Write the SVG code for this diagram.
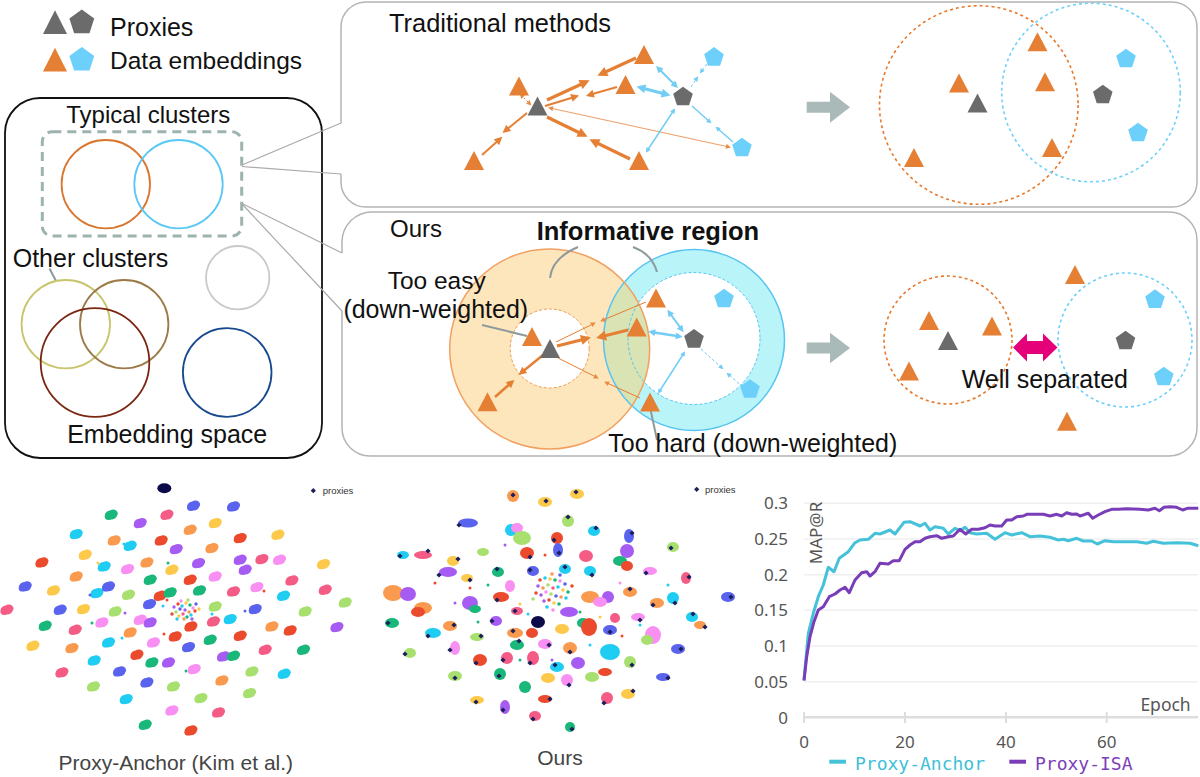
<svg xmlns="http://www.w3.org/2000/svg" xmlns:xlink="http://www.w3.org/1999/xlink" width="1200" height="777" viewBox="0 0 1200 777">
<style>
text{font-family:"Liberation Sans",Arial,sans-serif;fill:#111}
.ch{font-family:"Noto Sans","Open Sans",sans-serif;fill:#555;font-size:17px}
.mono{font-family:"DejaVu Sans Mono","Liberation Mono",monospace;font-size:18px}
.or{fill:#e57f33}.gy{fill:#6b6b6b}.bl{fill:#6dd0fa}
.panel{fill:none;stroke:#b4b4b4;stroke-width:1.5}
.call{stroke:#aaaaaa;stroke-width:1.2;fill:none}
.ptr{stroke:#8f9a9d;stroke-width:2;fill:none}
.ao{stroke:#e57f33;fill:none}
.ab{stroke:#72cdf4;fill:none}
.r{fill:#ec4a2d}.o{fill:#f99a4e}.y{fill:#fcc94a}.lg{fill:#a8e070}.g{fill:#19b77a}.c{fill:#1fcdf2}.b{fill:#5a63ee}.pu{fill:#a65cf3}.pk{fill:#f88ff2}.ro{fill:#f45c86}.nv{fill:#0b0b4a}
.grid{stroke:#efefef;stroke-width:1.5}
</style>
<defs>
<polygon id="tri" points="0,-9.5 10,9.5 -10,9.5"/>
<polygon id="pent" points="0,-10.3 9.8,-3.2 6.05,8.35 -6.05,8.35 -9.8,-3.2"/>
<g id="e1"><ellipse rx="6" ry="4.6"/><ellipse cx="2.2" cy="-1.6" rx="4.6" ry="3.8"/><ellipse cx="-2.5" cy="1.5" rx="3.8" ry="3.4"/></g>
<polygon id="px" points="0,-2.6 2.6,0 0,2.6 -2.6,0" fill="#1d1f5c"/>
<marker id="aoL" viewBox="0 0 10 10" refX="6" refY="5" markerWidth="11" markerHeight="10" orient="auto-start-reverse" markerUnits="userSpaceOnUse"><path d="M0,0 L10,5 L0,10 z" fill="#e57f33"/></marker>
<marker id="aoM" viewBox="0 0 10 10" refX="6" refY="5" markerWidth="9" markerHeight="8" orient="auto-start-reverse" markerUnits="userSpaceOnUse"><path d="M0,0 L10,5 L0,10 z" fill="#e57f33"/></marker>
<marker id="aoS" viewBox="0 0 10 10" refX="6" refY="5" markerWidth="6" markerHeight="5" orient="auto-start-reverse" markerUnits="userSpaceOnUse"><path d="M0,0 L10,5 L0,10 z" fill="#e98a45"/></marker>
<marker id="abL" viewBox="0 0 10 10" refX="6" refY="5" markerWidth="10" markerHeight="9" orient="auto-start-reverse" markerUnits="userSpaceOnUse"><path d="M0,0 L10,5 L0,10 z" fill="#72cdf4"/></marker>
<marker id="abM" viewBox="0 0 10 10" refX="6" refY="5" markerWidth="8" markerHeight="7" orient="auto-start-reverse" markerUnits="userSpaceOnUse"><path d="M0,0 L10,5 L0,10 z" fill="#72cdf4"/></marker>
<marker id="abS" viewBox="0 0 10 10" refX="6" refY="5" markerWidth="6" markerHeight="5" orient="auto-start-reverse" markerUnits="userSpaceOnUse"><path d="M0,0 L10,5 L0,10 z" fill="#72cdf4"/></marker>
<clipPath id="peachClip"><circle cx="549.7" cy="349" r="100"/></clipPath>
</defs>
<rect width="1200" height="777" fill="#fff"/>

<!-- Legend -->
<g id="legend">
<use href="#tri" class="gy" transform="translate(55,22) scale(1.2,1.25)"/>
<use href="#pent" class="gy" transform="translate(81.8,22.6) scale(1.27)"/>
<use href="#tri" class="or" transform="translate(55,59.5) scale(1.2,1.25)"/>
<use href="#pent" class="bl" transform="translate(81.8,60) scale(1.27)"/>
<text x="110" y="35.7" font-size="25">Proxies</text>
<text x="110" y="68.5" font-size="24.5">Data embeddings</text>
</g>

<!-- Embedding space box -->
<g id="embedding-space">
<rect x="5" y="98" width="317" height="360" rx="35" fill="none" stroke="#111" stroke-width="1.8"/>
<text x="148.3" y="123.3" font-size="24" text-anchor="middle">Typical clusters</text>
<rect x="42.3" y="131.7" width="199.4" height="104.3" rx="10" fill="none" stroke="#9db3b0" stroke-width="3" stroke-dasharray="9 6"/>
<circle cx="105.8" cy="184.2" r="44.2" fill="none" stroke="#d9762e" stroke-width="1.8"/>
<circle cx="178.5" cy="184.2" r="44.2" fill="none" stroke="#5ac8f5" stroke-width="1.8"/>
<text x="12.7" y="266.7" font-size="25">Other clusters</text>
<line x1="49.5" y1="268.5" x2="56" y2="281" class="ptr"/>
<circle cx="65.8" cy="324.2" r="44.2" fill="none" stroke="#c8c56c" stroke-width="1.8"/>
<circle cx="124.2" cy="324.2" r="44.2" fill="none" stroke="#9c7a48" stroke-width="1.8"/>
<circle cx="95" cy="362.5" r="54.3" fill="none" stroke="#7b2612" stroke-width="1.8"/>
<circle cx="237.7" cy="277.7" r="31.7" fill="none" stroke="#c9c9c9" stroke-width="1.8"/>
<circle cx="227.2" cy="372.5" r="44.3" fill="none" stroke="#17498f" stroke-width="1.8"/>
<text x="167.2" y="443.3" font-size="25" text-anchor="middle">Embedding space</text>
</g>

<!-- Traditional methods panel -->
<g id="panel-traditional">
<path class="panel" d="M341,174 V182 A25,25 0 0 0 366,207 H1172 A25,25 0 0 0 1197,182 V27 A25,25 0 0 0 1172,2 H366 A25,25 0 0 0 341,27 V123"/>
<text x="389" y="31.7" font-size="25.4">Traditional methods</text>
<circle cx="978.8" cy="105" r="99.3" fill="none" stroke="#e8782a" stroke-width="1.6" stroke-dasharray="3 3"/>
<circle cx="1091" cy="92.5" r="89.3" fill="none" stroke="#6dd0fa" stroke-width="1.6" stroke-dasharray="3 3"/>
<polygon points="806.7,101.7 830,101.7 830,91.7 850,107.2 830,122.7 830,112.7 806.7,112.7" fill="#a9bab8"/>
</g>

<!-- Ours panel -->
<g id="panel-ours">
<path class="panel" d="M342,311 V428 A28,28 0 0 0 370,456 H1169 A28,28 0 0 0 1197,428 V240 A28,28 0 0 0 1169,212 H372 A30,30 0 0 0 342,242 V253"/>
<circle cx="694" cy="340" r="90.5" fill="#b9f4f9"/>
<circle cx="694" cy="338.5" r="66" fill="#fff"/>
<circle cx="549.7" cy="349" r="100" fill="#fde5bc"/>
<circle cx="694" cy="340" r="90.5" fill="#d9e3b3" clip-path="url(#peachClip)"/>
<circle cx="549.7" cy="348.5" r="39.5" fill="#fff" stroke="#f09a55" stroke-width="1" stroke-dasharray="3 2"/>
<circle cx="694" cy="338.5" r="66" fill="none" stroke="#56c4f2" stroke-width="1" stroke-dasharray="3 2"/>
<circle cx="694" cy="340" r="90.5" fill="none" stroke="#56c4f2" stroke-width="1.5"/>
<circle cx="549.7" cy="349" r="100" fill="none" stroke="#f0a060" stroke-width="1.5"/>
<text x="390" y="236.7" font-size="24">Ours</text>
<text x="536.7" y="240" font-size="25.5" font-weight="bold">Informative region</text>
<path class="ptr" d="M578,247 Q552,258 550,278"/>
<path class="ptr" d="M633,247 Q652,254 657,272"/>
<text x="436.7" y="289.3" font-size="24.5" text-anchor="middle">Too easy</text>
<text x="435.8" y="318.3" font-size="25" text-anchor="middle">(down-weighted)</text>
<line class="ptr" x1="482" y1="325" x2="527" y2="336"/>
<line class="ptr" x1="650" y1="407" x2="657" y2="440"/>
<text x="608.3" y="451.7" font-size="25">Too hard (down-weighted)</text>
<polygon points="806.7,342.5 830,342.5 830,332.7 850,348 830,363.3 830,353.5 806.7,353.5" fill="#a9bab8"/>
<circle cx="948" cy="340" r="64" fill="none" stroke="#e8782a" stroke-width="1.6" stroke-dasharray="3 3"/>
<circle cx="1125" cy="340" r="67" fill="none" stroke="#6dd0fa" stroke-width="1.6" stroke-dasharray="3 3"/>
<polygon points="1013,347.5 1027,333.5 1027,341 1043,341 1043,333.5 1057.5,347.5 1043,361.5 1043,354 1027,354 1027,361.5" fill="#e5007a"/>
<text x="961.7" y="388.3" font-size="25">Well separated</text>
</g>

<!-- Connectors -->
<g id="connectors">
<line class="call" x1="242" y1="165" x2="341" y2="123"/>
<line class="call" x1="242" y1="166.5" x2="341" y2="174"/>
<line class="call" x1="242" y1="203.5" x2="342" y2="253"/>
<line class="call" x1="243" y1="205" x2="342" y2="311"/>
<!-- traditional orange -->
<path class="ao" stroke-width="3.2" d="M636,58 L601,74" marker-end="url(#aoL)"/>
<path class="ao" stroke-width="3.2" d="M547,100 L586,82" marker-end="url(#aoL)"/>
<path class="ao" stroke-width="3.2" d="M630,159 L593,141" marker-end="url(#aoL)"/>
<path class="ao" stroke-width="3.2" d="M547,117 L584,135" marker-end="url(#aoL)"/>
<path class="ao" stroke-width="2" d="M617,87 L589,95" marker-end="url(#aoM)"/>
<path class="ao" stroke-width="2" d="M545,106 L576,96.5" marker-end="url(#aoM)"/>
<path class="ao" stroke-width="2" d="M527,113 L505,131" marker-end="url(#aoM)"/>
<path class="ao" stroke-width="2" d="M482,155 L500,139" marker-end="url(#aoM)"/>
<path class="ao" stroke-width="1" stroke-dasharray="2 2" d="M521,95 L530,104" marker-start="url(#aoS)" marker-end="url(#aoS)"/>
<path stroke="#eea06a" fill="none" stroke-width="1.1" d="M550,108 L729,147" marker-start="url(#aoS)" marker-end="url(#aoS)"/>
<!-- traditional blue -->
<path class="ab" stroke-width="2" d="M658,68 L676,86" marker-start="url(#abM)" marker-end="url(#abM)"/>
<path class="ab" stroke-width="3" d="M640,87.5 L667,94.5" marker-start="url(#abL)" marker-end="url(#abL)"/>
<path class="ab" stroke-width="1.5" d="M647,151 L674,110" marker-start="url(#abS)" marker-end="url(#abS)"/>
<path class="ab" stroke-width="1" stroke-dasharray="3 2" d="M691,87 L697,78" marker-end="url(#abS)"/>
<path class="ab" stroke-width="1" stroke-dasharray="3 2" d="M707,64 L701,72" marker-end="url(#abS)"/>
<path class="ab" stroke-width="1.5" d="M692,106 L710,122" marker-end="url(#abS)"/>
<path class="ab" stroke-width="1.5" d="M733,142 L717,128" marker-end="url(#abS)"/>
<!-- ours orange -->
<path class="ao" stroke-width="3" d="M557,346 L587,338.5" marker-end="url(#aoL)"/>
<path class="ao" stroke-width="3" d="M628,330 L600,337" marker-end="url(#aoL)"/>
<path class="ao" stroke-width="2.5" d="M543,355 L521,373" marker-end="url(#aoM)"/>
<path class="ao" stroke-width="2.5" d="M495,397 L512,382" marker-end="url(#aoM)"/>
<path class="ao" stroke-width="1" d="M646,302 L602,320.5" marker-end="url(#aoS)"/>
<path class="ao" stroke-width="1" d="M556,342 L594,323.5" marker-end="url(#aoS)"/>
<path class="ao" stroke-width="1" d="M558,358 L597,377.5" marker-end="url(#aoS)"/>
<path class="ao" stroke-width="1" d="M640,398 L606,382.5" marker-end="url(#aoS)"/>
<!-- ours blue -->
<path class="ab" stroke-width="2" d="M669,312 L682,330" marker-start="url(#abM)" marker-end="url(#abM)"/>
<path class="ab" stroke-width="2.5" d="M651,332 L680,336.5" marker-start="url(#abM)" marker-end="url(#abM)"/>
<path class="ab" stroke-width="1.5" d="M659,392 L684,353" marker-start="url(#abS)" marker-end="url(#abS)"/>
<path class="ab" stroke-width="1" stroke-dasharray="3 2" d="M701,349 L722,368" marker-end="url(#abS)"/>
<path class="ab" stroke-width="1" stroke-dasharray="3 2" d="M743,387 L728,374" marker-end="url(#abS)"/>
</g>

<!-- Nodes: traditional -->
<g id="nodes-traditional">
<use href="#tri" class="or" x="519" y="86"/>
<use href="#tri" class="or" x="644" y="54.5"/>
<use href="#tri" class="or" x="625.5" y="84.5"/>
<use href="#tri" class="or" x="474" y="160.5"/>
<use href="#tri" class="or" x="639" y="160.5"/>
<use href="#tri" class="gy" x="537.5" y="106"/>
<use href="#pent" class="gy" x="683" y="97"/>
<use href="#pent" class="bl" x="714" y="57.4"/>
<use href="#pent" class="bl" x="742" y="148"/>
<use href="#tri" class="or" x="1037.5" y="41.7"/>
<use href="#tri" class="or" x="959" y="83"/>
<use href="#tri" class="or" x="1045" y="81.7"/>
<use href="#tri" class="or" x="1052" y="147.5"/>
<use href="#tri" class="or" x="914" y="157.5"/>
<use href="#tri" class="gy" x="977.5" y="103"/>
<use href="#pent" class="gy" x="1102.8" y="95"/>
<use href="#pent" class="bl" x="1126" y="59"/>
<use href="#pent" class="bl" x="1138" y="133"/>
</g>

<!-- Nodes: ours -->
<g id="nodes-ours">
<use href="#tri" class="or" x="532" y="336.5"/>
<use href="#tri" class="gy" x="550" y="348.5"/>
<use href="#tri" class="or" x="487.5" y="401.7"/>
<use href="#tri" class="or" x="656" y="298"/>
<use href="#tri" class="or" x="636.7" y="327"/>
<use href="#tri" class="or" x="650" y="402"/>
<use href="#pent" class="gy" x="694" y="339.3"/>
<use href="#pent" class="bl" x="724" y="299"/>
<use href="#pent" class="bl" x="750" y="389.5"/>
<use href="#tri" class="or" x="929" y="320.5"/>
<use href="#tri" class="or" x="992" y="326"/>
<use href="#tri" class="or" x="909" y="371"/>
<use href="#tri" class="or" x="1075" y="274.5"/>
<use href="#tri" class="or" x="1067" y="421.3"/>
<use href="#tri" class="gy" x="948" y="340.5"/>
<use href="#pent" class="gy" x="1125.5" y="341"/>
<use href="#pent" class="bl" x="1155" y="299.6"/>
<use href="#pent" class="bl" x="1163.8" y="377"/>
</g>

<!-- Scatter: Proxy-Anchor -->
<g id="scatter-proxy-anchor">
<ellipse cx="164.3" cy="488.3" rx="7" ry="5" class="nv"/>
<use href="#px" x="313.3" y="490.7"/>
<text x="322.7" y="494" font-size="9.5" style="fill:#333">proxies</text>
<use href="#e1" class="b" x="193.3" y="506"/><use href="#e1" class="b" x="233.3" y="506.7"/>
<use href="#e1" class="g" x="111" y="515"/><use href="#e1" class="ro" x="166.7" y="515"/>
<use href="#e1" class="pu" x="140" y="523.3"/><use href="#e1" class="y" x="215" y="523.3"/>
<use href="#e1" class="c" x="76" y="534.3"/><use href="#e1" class="o" x="190" y="530"/>
<use href="#e1" class="r" x="240" y="538.3"/><use href="#e1" class="y" x="277.7" y="535"/>
<use href="#e1" class="o" x="114" y="540.7"/><use href="#e1" class="r" x="161" y="540.7"/>
<use href="#e1" class="c" x="130" y="546"/><use href="#e1" class="pu" x="176" y="549.3"/>
<use href="#e1" class="o" x="211.7" y="548.3"/><use href="#e1" class="y" x="85" y="555"/>
<use href="#e1" class="r" x="41.7" y="562.7"/><use href="#e1" class="o" x="146.7" y="562.7"/>
<use href="#e1" class="pu" x="198.3" y="563.3"/><use href="#e1" class="pu" x="240" y="560"/>
<use href="#e1" class="pu" x="245" y="570"/><use href="#e1" class="ro" x="261.7" y="559.3"/>
<use href="#e1" class="pk" x="279.3" y="560"/><use href="#e1" class="y" x="323.3" y="564.3"/>
<use href="#e1" class="c" x="104" y="566.7"/><use href="#e1" class="pk" x="127.3" y="569.3"/>
<use href="#e1" class="y" x="171.7" y="570"/><use href="#e1" class="o" x="76" y="576.7"/>
<use href="#e1" class="g" x="150" y="580"/><use href="#e1" class="r" x="190" y="580"/>
<use href="#e1" class="pk" x="215" y="576.7"/><use href="#e1" class="ro" x="291.7" y="580.7"/>
<use href="#e1" class="b" x="25" y="586.7"/><use href="#e1" class="y" x="53.3" y="590.7"/>
<use href="#e1" class="c" x="96.7" y="593.3"/><use href="#e1" class="b" x="108.3" y="586.7"/>
<use href="#e1" class="lg" x="128.3" y="595"/><use href="#e1" class="r" x="160" y="596"/>
<use href="#e1" class="g" x="170" y="592.7"/><use href="#e1" class="g" x="199.3" y="590.7"/>
<use href="#e1" class="ro" x="233.3" y="591.7"/><use href="#e1" class="pk" x="256.7" y="587.3"/>
<use href="#e1" class="c" x="283.3" y="596"/><use href="#e1" class="ro" x="325" y="590"/>
<use href="#e1" class="lg" x="345" y="602.7"/><use href="#e1" class="ro" x="6.7" y="610"/>
<use href="#e1" class="b" x="60" y="610"/><use href="#e1" class="y" x="83.3" y="609.3"/>
<use href="#e1" class="lg" x="115" y="611.7"/><use href="#e1" class="b" x="149.3" y="604.3"/>
<use href="#e1" class="lg" x="215" y="606.7"/><use href="#e1" class="b" x="255" y="609.3"/>
<use href="#e1" class="lg" x="305" y="611.7"/><use href="#e1" class="pk" x="140" y="620"/>
<use href="#e1" class="pu" x="150" y="622.7"/><use href="#e1" class="pk" x="101.7" y="622.7"/>
<use href="#e1" class="c" x="230" y="619.3"/><use href="#e1" class="ro" x="213.3" y="621.7"/>
<use href="#e1" class="g" x="45" y="626"/><use href="#e1" class="ro" x="75" y="630"/>
<use href="#e1" class="r" x="190.7" y="626.7"/><use href="#e1" class="o" x="271.7" y="626.7"/>
<use href="#e1" class="r" x="290" y="630.7"/><use href="#e1" class="pu" x="336.7" y="627.3"/>
<use href="#e1" class="o" x="130" y="632.7"/><use href="#e1" class="y" x="32.7" y="646"/>
<use href="#e1" class="o" x="71.7" y="648.3"/><use href="#e1" class="c" x="108.3" y="642.7"/>
<use href="#e1" class="pk" x="153.3" y="642.7"/><use href="#e1" class="r" x="175" y="636.7"/>
<use href="#e1" class="b" x="188.3" y="647.3"/><use href="#e1" class="g" x="210" y="640"/>
<use href="#e1" class="r" x="240" y="636"/><use href="#e1" class="ro" x="265" y="650"/>
<use href="#e1" class="g" x="303.3" y="650"/><use href="#e1" class="r" x="136.7" y="655"/>
<use href="#e1" class="g" x="151.7" y="662.7"/><use href="#e1" class="pu" x="168.3" y="662.7"/>
<use href="#e1" class="pu" x="223.3" y="656.7"/><use href="#e1" class="g" x="233.3" y="656"/>
<use href="#e1" class="c" x="94" y="660.7"/><use href="#e1" class="pk" x="194" y="669.3"/>
<use href="#e1" class="ro" x="61.7" y="672.7"/><use href="#e1" class="b" x="119.3" y="671.7"/>
<use href="#e1" class="lg" x="251.7" y="671.7"/><use href="#e1" class="c" x="284" y="674"/>
<use href="#e1" class="o" x="221.7" y="680.7"/><use href="#e1" class="b" x="146.7" y="682.7"/>
<use href="#e1" class="lg" x="173.3" y="686.7"/><use href="#e1" class="lg" x="93.3" y="686.7"/>
<use href="#e1" class="c" x="126" y="699.3"/><use href="#e1" class="lg" x="200.7" y="698.3"/>
<use href="#e1" class="lg" x="249.3" y="693.3"/><use href="#e1" class="pk" x="171.7" y="710.7"/>
<use href="#e1" class="ro" x="218.3" y="712.7"/><use href="#e1" class="g" x="145" y="725"/>
<use href="#e1" class="r" x="190.7" y="730.7"/>
<g>
<circle cx="178" cy="604" r="1.7" class="r"/><circle cx="182" cy="606" r="1.7" class="c"/><circle cx="186" cy="603" r="1.7" class="y"/><circle cx="190" cy="605" r="1.7" class="g"/><circle cx="193" cy="608" r="1.7" class="pk"/><circle cx="180" cy="609" r="1.7" class="b"/><circle cx="185" cy="610" r="1.7" class="pu"/><circle cx="189" cy="612" r="1.7" class="o"/><circle cx="176" cy="612" r="1.7" class="lg"/><circle cx="183" cy="614" r="1.7" class="ro"/><circle cx="191" cy="615" r="1.7" class="c"/><circle cx="179" cy="616" r="1.7" class="y"/><circle cx="187" cy="617" r="1.7" class="g"/><circle cx="195" cy="611" r="1.7" class="r"/><circle cx="174" cy="607" r="1.7" class="pu"/><circle cx="181" cy="601" r="1.7" class="pk"/><circle cx="188" cy="600" r="1.7" class="lg"/><circle cx="196" cy="604" r="1.7" class="b"/><circle cx="184" cy="619" r="1.7" class="o"/><circle cx="177" cy="619" r="1.7" class="c"/><circle cx="192" cy="619" r="1.7" class="pu"/><circle cx="172" cy="614" r="1.7" class="r"/><circle cx="199" cy="609" r="1.7" class="y"/>
<circle cx="124" cy="544" r="1.5" class="c"/><circle cx="98" cy="563" r="1.5" class="y"/><circle cx="168" cy="563" r="1.5" class="g"/><circle cx="167" cy="600" r="1.5" class="r"/><circle cx="163" cy="606" r="1.5" class="c"/><circle cx="212" cy="614" r="1.5" class="c"/><circle cx="92" cy="623" r="1.5" class="g"/><circle cx="125" cy="613" r="1.5" class="pu"/><circle cx="164" cy="634" r="1.5" class="r"/><circle cx="122" cy="638" r="1.5" class="c"/><circle cx="264" cy="591" r="1.5" class="r"/><circle cx="245" cy="611" r="1.5" class="b"/><circle cx="186" cy="671" r="1.5" class="g"/><circle cx="90" cy="595" r="1.5" class="b"/>
</g>
<text x="175.8" y="770" font-size="21" text-anchor="middle" style="fill:#444">Proxy-Anchor (Kim et al.)</text>
</g>

<!-- Scatter: Ours -->
<g id="scatter-ours">
<use href="#px" x="696.7" y="489.3"/>
<text x="705" y="493" font-size="9.5" style="fill:#333">proxies</text>
<ellipse cx="513" cy="496" rx="6" ry="6" class="o"/><ellipse cx="545" cy="502" rx="7" ry="5" class="y"/>
<ellipse cx="577" cy="494" rx="7" ry="5" class="y"/><ellipse cx="568" cy="521" rx="6" ry="6" class="lg"/>
<ellipse cx="468" cy="523" rx="10" ry="4.5" class="b"/><ellipse cx="511" cy="530" rx="6" ry="6" class="c"/>
<ellipse cx="517" cy="528" rx="6" ry="5" class="pk"/><ellipse cx="522" cy="538" rx="9" ry="7" class="lg"/>
<ellipse cx="557" cy="538" rx="6" ry="6" class="r"/><ellipse cx="594" cy="531" rx="6" ry="5" class="c"/>
<ellipse cx="629" cy="536" rx="5" ry="7" class="b"/><ellipse cx="403" cy="555" rx="6" ry="4" class="c"/>
<ellipse cx="423" cy="555" rx="9" ry="4" class="ro"/><ellipse cx="483" cy="552" rx="6" ry="4" class="lg"/>
<ellipse cx="527" cy="553" rx="7" ry="6" class="r"/><ellipse cx="558" cy="550" rx="5" ry="7" class="b"/>
<ellipse cx="586" cy="556" rx="7" ry="6" class="ro"/><ellipse cx="627" cy="551" rx="7" ry="7" class="pu"/>
<ellipse cx="620" cy="561" rx="7" ry="5" class="g"/><ellipse cx="627" cy="566" rx="6" ry="5" class="r"/>
<ellipse cx="673" cy="547" rx="6" ry="5" class="lg"/><ellipse cx="453" cy="561" rx="6" ry="5" class="y"/>
<ellipse cx="448" cy="572" rx="9" ry="5" class="pu"/><ellipse cx="467" cy="578" rx="6" ry="4" class="y"/>
<ellipse cx="498" cy="572" rx="6" ry="5" class="g"/><ellipse cx="533" cy="571" rx="6" ry="5" class="b"/>
<ellipse cx="565" cy="569" rx="6" ry="5" class="c"/><ellipse cx="590" cy="571" rx="6" ry="5" class="c"/>
<ellipse cx="650" cy="571" rx="7" ry="4" class="pk"/><ellipse cx="686" cy="578" rx="5" ry="6" class="ro"/>
<ellipse cx="393" cy="593" rx="10" ry="8" class="o"/><ellipse cx="408" cy="594" rx="8" ry="7" class="pu"/>
<ellipse cx="423" cy="608" rx="9" ry="6" class="o"/><ellipse cx="418" cy="612" rx="7" ry="5" class="r"/>
<ellipse cx="510" cy="586" rx="5" ry="6" class="pk"/><ellipse cx="501" cy="597" rx="8" ry="5" class="r"/>
<ellipse cx="470" cy="603" rx="8" ry="7" class="pu"/><ellipse cx="475" cy="609" rx="6" ry="4" class="g"/>
<ellipse cx="590" cy="597" rx="9" ry="6" class="o"/><ellipse cx="608" cy="597" rx="6" ry="6" class="pu"/>
<ellipse cx="600" cy="602" rx="7" ry="5" class="pk"/><ellipse cx="630" cy="592" rx="7" ry="5" class="o"/>
<ellipse cx="657" cy="603" rx="7" ry="5" class="o"/><ellipse cx="673" cy="598" rx="6" ry="6" class="c"/>
<ellipse cx="728" cy="597" rx="7" ry="5" class="b"/><ellipse cx="392" cy="623" rx="7" ry="5" class="g"/>
<ellipse cx="496" cy="621" rx="6" ry="5" class="pu"/><ellipse cx="517" cy="611" rx="6" ry="4" class="ro"/>
<ellipse cx="538" cy="622" rx="7" ry="6" class="nv"/><ellipse cx="569" cy="612" rx="9" ry="5" class="pu"/>
<ellipse cx="583" cy="623" rx="6" ry="5" class="g"/><ellipse cx="589" cy="627" rx="8" ry="9" class="r"/>
<ellipse cx="615" cy="618" rx="5" ry="5" class="ro"/><ellipse cx="638" cy="617" rx="7" ry="4" class="pk"/>
<ellipse cx="692" cy="617" rx="6" ry="5" class="c"/><ellipse cx="700" cy="625" rx="6" ry="4" class="o"/>
<ellipse cx="433" cy="633" rx="8" ry="5" class="c"/><ellipse cx="450" cy="626" rx="7" ry="5" class="o"/>
<ellipse cx="515" cy="633" rx="8" ry="5" class="o"/><ellipse cx="532" cy="633" rx="6" ry="5" class="r"/>
<ellipse cx="562" cy="629" rx="7" ry="5" class="y"/><ellipse cx="610" cy="630" rx="7" ry="5" class="b"/>
<ellipse cx="653" cy="635" rx="8" ry="9" class="pk"/><ellipse cx="477" cy="637" rx="7" ry="4" class="lg"/>
<ellipse cx="647" cy="640" rx="6" ry="5" class="lg"/><ellipse cx="517" cy="645" rx="7" ry="5" class="g"/>
<ellipse cx="545" cy="644" rx="7" ry="5" class="pk"/><ellipse cx="610" cy="652" rx="10" ry="8" class="c"/>
<ellipse cx="678" cy="649" rx="7" ry="5" class="b"/><ellipse cx="410" cy="653" rx="6" ry="5" class="lg"/>
<ellipse cx="455" cy="648" rx="5" ry="7" class="pk"/><ellipse cx="570" cy="648" rx="7" ry="6" class="o"/>
<ellipse cx="480" cy="660" rx="7" ry="6" class="r"/><ellipse cx="507" cy="658" rx="6" ry="6" class="ro"/>
<ellipse cx="533" cy="658" rx="6" ry="7" class="ro"/><ellipse cx="630" cy="662" rx="6" ry="6" class="lg"/>
<ellipse cx="578" cy="663" rx="7" ry="6" class="pu"/><ellipse cx="557" cy="667" rx="7" ry="5" class="c"/>
<ellipse cx="500" cy="674" rx="6" ry="6" class="g"/><ellipse cx="455" cy="676" rx="7" ry="5" class="lg"/>
<ellipse cx="548" cy="678" rx="7" ry="5" class="y"/><ellipse cx="567" cy="680" rx="6" ry="6" class="pk"/>
<ellipse cx="592" cy="677" rx="7" ry="5" class="lg"/><ellipse cx="605" cy="672" rx="7" ry="4" class="r"/>
<ellipse cx="663" cy="677" rx="7" ry="4" class="b"/><ellipse cx="525" cy="687" rx="6" ry="6" class="g"/>
<ellipse cx="545" cy="699" rx="7" ry="4" class="r"/><ellipse cx="607" cy="698" rx="6" ry="6" class="ro"/>
<ellipse cx="628" cy="694" rx="7" ry="5" class="y"/><ellipse cx="477" cy="700" rx="7" ry="4" class="y"/>
<ellipse cx="505" cy="707" rx="5" ry="7" class="pu"/><ellipse cx="535" cy="716" rx="6" ry="5" class="ro"/>
<ellipse cx="570" cy="727" rx="5" ry="5" class="g"/>
<g>
<circle cx="540" cy="580" r="1.8" class="r"/><circle cx="545" cy="578" r="1.8" class="c"/><circle cx="550" cy="579" r="1.8" class="y"/><circle cx="555" cy="580" r="1.8" class="g"/><circle cx="560" cy="581" r="1.8" class="pk"/><circle cx="565" cy="584" r="1.8" class="b"/><circle cx="538" cy="586" r="1.8" class="pu"/><circle cx="543" cy="588" r="1.8" class="o"/><circle cx="548" cy="585" r="1.8" class="lg"/><circle cx="553" cy="588" r="1.8" class="ro"/><circle cx="558" cy="587" r="1.8" class="c"/><circle cx="563" cy="590" r="1.8" class="y"/><circle cx="568" cy="592" r="1.8" class="g"/><circle cx="536" cy="593" r="1.8" class="r"/><circle cx="541" cy="595" r="1.8" class="pu"/><circle cx="546" cy="592" r="1.8" class="pk"/><circle cx="551" cy="594" r="1.8" class="lg"/><circle cx="556" cy="596" r="1.8" class="b"/><circle cx="561" cy="597" r="1.8" class="o"/><circle cx="566" cy="598" r="1.8" class="c"/><circle cx="544" cy="601" r="1.8" class="pu"/><circle cx="549" cy="600" r="1.8" class="r"/><circle cx="554" cy="603" r="1.8" class="y"/><circle cx="559" cy="604" r="1.8" class="g"/><circle cx="547" cy="607" r="1.8" class="c"/><circle cx="553" cy="610" r="1.8" class="pk"/><circle cx="572" cy="586" r="1.8" class="r"/><circle cx="533" cy="599" r="1.8" class="lg"/><circle cx="552" cy="574" r="1.8" class="o"/><circle cx="560" cy="575" r="1.8" class="b"/>
<circle cx="470" cy="588" r="1.5" class="r"/><circle cx="488" cy="585" r="1.5" class="g"/><circle cx="520" cy="604" r="1.5" class="y"/><circle cx="528" cy="614" r="1.5" class="c"/><circle cx="580" cy="612" r="1.5" class="g"/><circle cx="600" cy="617" r="1.5" class="y"/><circle cx="622" cy="636" r="1.5" class="r"/><circle cx="640" cy="625" r="1.5" class="c"/><circle cx="455" cy="603" r="1.5" class="pu"/><circle cx="435" cy="583" r="1.5" class="r"/><circle cx="520" cy="660" r="1.5" class="g"/><circle cx="590" cy="645" r="1.5" class="c"/><circle cx="620" cy="583" r="1.5" class="pk"/><circle cx="668" cy="585" r="1.5" class="c"/><circle cx="478" cy="622" r="1.5" class="g"/><circle cx="552" cy="660" r="1.5" class="pu"/><circle cx="505" cy="545" r="1.5" class="pu"/><circle cx="545" cy="555" r="1.5" class="r"/>
</g>
<g>
<use href="#px" x="513" y="495"/><use href="#px" x="546" y="501"/><use href="#px" x="576" y="492"/><use href="#px" x="568" y="517"/><use href="#px" x="459" y="525"/><use href="#px" x="554" y="540"/><use href="#px" x="596" y="528"/><use href="#px" x="632" y="533"/><use href="#px" x="400" y="556"/><use href="#px" x="428" y="551"/><use href="#px" x="530" y="557"/><use href="#px" x="559" y="553"/><use href="#px" x="671" y="548"/><use href="#px" x="458" y="559"/><use href="#px" x="439" y="575"/><use href="#px" x="470" y="580"/><use href="#px" x="497" y="569"/><use href="#px" x="530" y="570"/><use href="#px" x="565" y="567"/><use href="#px" x="592" y="575"/><use href="#px" x="646" y="573"/><use href="#px" x="689" y="577"/><use href="#px" x="497" y="600"/><use href="#px" x="630" y="589"/><use href="#px" x="653" y="605"/><use href="#px" x="675" y="603"/><use href="#px" x="731" y="597"/><use href="#px" x="388" y="623"/><use href="#px" x="492" y="621"/><use href="#px" x="515" y="611"/><use href="#px" x="640" y="620"/><use href="#px" x="693" y="614"/><use href="#px" x="705" y="627"/><use href="#px" x="428" y="636"/><use href="#px" x="454" y="625"/><use href="#px" x="513" y="631"/><use href="#px" x="610" y="632"/><use href="#px" x="481" y="636"/><use href="#px" x="519" y="641"/><use href="#px" x="549" y="645"/><use href="#px" x="681" y="649"/><use href="#px" x="405" y="654"/><use href="#px" x="450" y="650"/><use href="#px" x="570" y="652"/><use href="#px" x="476" y="663"/><use href="#px" x="503" y="660"/><use href="#px" x="530" y="663"/><use href="#px" x="632" y="665"/><use href="#px" x="555" y="665"/><use href="#px" x="499" y="676"/><use href="#px" x="455" y="678"/><use href="#px" x="569" y="685"/><use href="#px" x="668" y="678"/><use href="#px" x="550" y="699"/><use href="#px" x="604" y="703"/><use href="#px" x="633" y="691"/><use href="#px" x="476" y="702"/><use href="#px" x="503" y="710"/><use href="#px" x="533" y="719"/><use href="#px" x="572" y="729"/>
</g>
<text x="560" y="765" font-size="21" text-anchor="middle" style="fill:#444">Ours</text>
</g>

<!-- Chart -->
<g id="chart">
<line class="grid" x1="804" y1="503.3" x2="1198" y2="503.3"/>
<line class="grid" x1="804" y1="539" x2="1198" y2="539"/>
<line class="grid" x1="804" y1="574.7" x2="1198" y2="574.7"/>
<line class="grid" x1="804" y1="610.3" x2="1198" y2="610.3"/>
<line class="grid" x1="804" y1="646" x2="1198" y2="646"/>
<line class="grid" x1="804" y1="681.7" x2="1198" y2="681.7"/>
<line x1="804" y1="717.3" x2="1198" y2="717.3" stroke="#dddddd" stroke-width="2.5"/>
<g stroke="#dddddd" stroke-width="2">
<line x1="804" y1="712" x2="804" y2="723"/><line x1="905" y1="712" x2="905" y2="723"/><line x1="1006" y1="712" x2="1006" y2="723"/><line x1="1106.7" y1="712" x2="1106.7" y2="723"/>
</g>
<g text-anchor="end">
<text class="ch" x="788" y="509.3">0.3</text>
<text class="ch" x="788" y="545">0.25</text>
<text class="ch" x="788" y="580.7">0.2</text>
<text class="ch" x="788" y="616.3">0.15</text>
<text class="ch" x="788" y="652">0.1</text>
<text class="ch" x="788" y="687.7">0.05</text>
<text class="ch" x="788" y="724">0</text>
</g>
<g text-anchor="middle">
<text class="ch" x="804" y="747.7">0</text>
<text class="ch" x="905" y="747.7">20</text>
<text class="ch" x="1006" y="747.7">40</text>
<text class="ch" x="1106.7" y="747.7">60</text>
</g>
<text class="ch" x="1190.7" y="710.7" text-anchor="end" style="font-size:17.5px">Epoch</text>
<text class="ch" transform="translate(821.5,533) rotate(-90)" text-anchor="middle">MAP@R</text>
<polyline fill="none" stroke="#45c1d9" stroke-width="3" stroke-linejoin="round" points="804,680 808.3,633.3 813.3,613.3 818.3,596.7 823.3,585 828.3,567.3 834,571.7 839.3,558.3 848.3,551.7 855,542.7 860,540 868.3,539.3 875,533.3 880,534 890,530 895,534 904,522.3 910,521.7 920,526 925,523.3 930,530 935,526.7 943.3,528.3 948.3,534 955,528.3 960,530.7 965,527.3 970,532.7 976.7,534 986.7,533.3 995,539.3 1005,532.7 1011.7,535 1021.7,532.7 1030,536.7 1040,536 1050,537.3 1058.3,540 1063.3,539.3 1068.3,540.7 1076.7,538.3 1083.3,541 1091.7,541 1097.3,544 1105,540.7 1113.3,541.7 1136.7,541.7 1146.7,543.3 1153.3,541.3 1163.3,543.3 1176.7,542.7 1190,543.3 1198.3,545.7"/>
<polyline fill="none" stroke="#7a3db8" stroke-width="3" stroke-linejoin="round" points="804,680.7 806.7,656.7 810,636.7 814,621.7 818.3,610 823.3,606.7 829.3,596.7 835,594 840,590 845,587.3 849.3,592.7 855,580 861.7,572.7 866.7,571.7 870,576 875,571.7 880,563.3 888.3,564 893.3,560.7 899.3,560.7 905,549.3 910,545 915,541.7 920,541.7 925,538.3 930,536.7 936.7,535.7 941.7,538.3 948.3,536.7 953.3,536 960,529.3 965.7,534 971.7,529.3 978.3,529.3 985,527.7 990,525 995,526 1001.7,526 1006.7,520 1011.7,520 1016.7,516.7 1023.3,516 1026.7,514.3 1033.3,514.3 1043.3,514.3 1050,516 1056.7,514.3 1061.7,516 1066.7,512.7 1071.7,514.3 1076.7,514 1080,516 1085,514.3 1088.3,513.3 1092.7,518.3 1098.3,515 1105,511.7 1111.7,509.3 1118.3,509.3 1126.7,508.7 1140,509.3 1148.3,510 1155,508.3 1159.3,510.7 1164,507.3 1170,506.7 1176.7,507.3 1182.7,510 1187.3,508.3 1198.3,508.3"/>
<line x1="829.3" y1="761.7" x2="846" y2="761.7" stroke="#45c1d9" stroke-width="4"/>
<text class="mono" x="855" y="770" style="fill:#40bfd8">Proxy-Anchor</text>
<line x1="1009.3" y1="761.7" x2="1026" y2="761.7" stroke="#7a3db8" stroke-width="4"/>
<text class="mono" x="1035" y="770" style="fill:#7c40b8">Proxy-ISA</text>
</g>
</svg>
